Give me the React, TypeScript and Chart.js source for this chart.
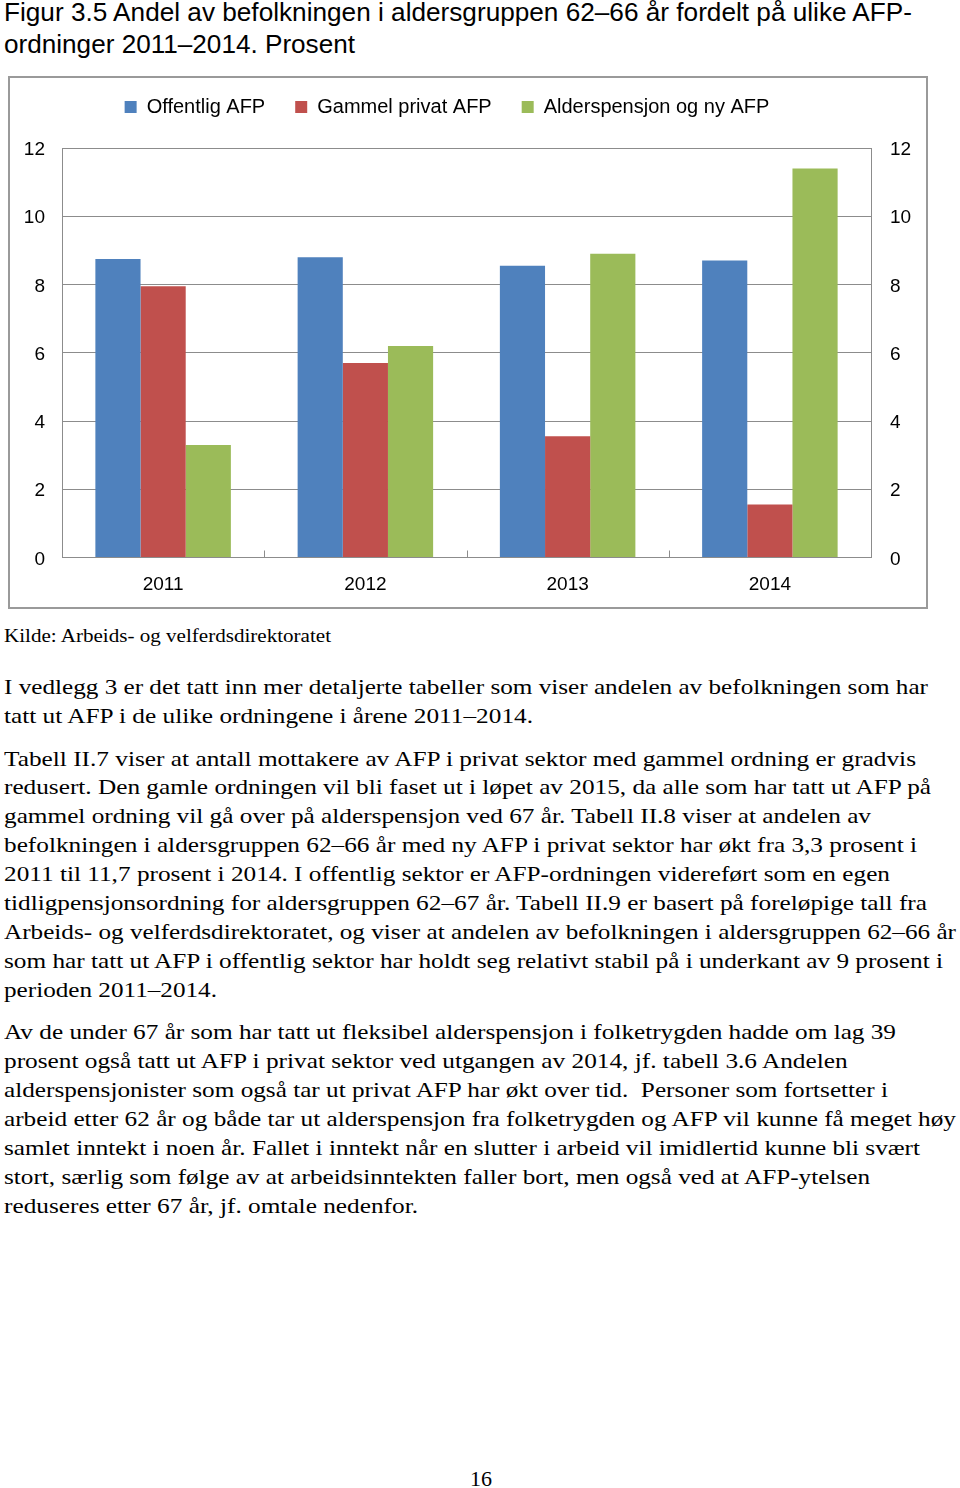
import React, { useEffect, useLayoutEffect, useRef } from "react";
import { Chart, registerables } from "chart.js";

Chart.register(...registerables);

// ---- chart data ----
const categories = ["2011", "2012", "2013", "2014"];
const seriesNames = ["Offentlig AFP", "Gammel privat AFP", "Alderspensjon og ny AFP"];
const offentligAFP = [8.75, 8.8, 8.55, 8.7];
const gammelPrivatAFP = [7.95, 5.7, 3.55, 1.55];
const alderspensjonNyAFP = [3.3, 6.2, 8.9, 11.4];
const seriesColors = ["#4F81BD", "#C0504D", "#9BBB59"];
const yMin = 0;
const yMax = 12;
const yStep = 2;

// ---- page text ----
const titleLines = [
  "Figur 3.5 Andel av befolkningen i aldersgruppen 62–66 år fordelt på ulike AFP-",
  "ordninger 2011–2014. Prosent",
];
const titleBaselines = [20.5, 52.8];
const titleWidths = [908, 351];

const sourceText = "Kilde: Arbeids- og velferdsdirektoratet";

const bodyLines = [
  "I vedlegg 3 er det tatt inn mer detaljerte tabeller som viser andelen av befolkningen som har",
  "tatt ut AFP i de ulike ordningene i årene 2011–2014.",
  "Tabell II.7 viser at antall mottakere av AFP i privat sektor med gammel ordning er gradvis",
  "redusert. Den gamle ordningen vil bli faset ut i løpet av 2015, da alle som har tatt ut AFP på",
  "gammel ordning vil gå over på alderspensjon ved 67 år. Tabell II.8 viser at andelen av",
  "befolkningen i aldersgruppen 62–66 år med ny AFP i privat sektor har økt fra 3,3 prosent i",
  "2011 til 11,7 prosent i 2014. I offentlig sektor er AFP-ordningen videreført som en egen",
  "tidligpensjonsordning for aldersgruppen 62–67 år. Tabell II.9 er basert på foreløpige tall fra",
  "Arbeids- og velferdsdirektoratet, og viser at andelen av befolkningen i aldersgruppen 62–66 år",
  "som har tatt ut AFP i offentlig sektor har holdt seg relativt stabil på i underkant av 9 prosent i",
  "perioden 2011–2014.",
  "Av de under 67 år som har tatt ut fleksibel alderspensjon i folketrygden hadde om lag 39",
  "prosent også tatt ut AFP i privat sektor ved utgangen av 2014, jf. tabell 3.6 Andelen",
  "alderspensjonister som også tar ut privat AFP har økt over tid.  Personer som fortsetter i",
  "arbeid etter 62 år og både tar ut alderspensjon fra folketrygden og AFP vil kunne få meget høy",
  "samlet inntekt i noen år. Fallet i inntekt når en slutter i arbeid vil imidlertid kunne bli svært",
  "stort, særlig som følge av at arbeidsinntekten faller bort, men også ved at AFP-ytelsen",
  "reduseres etter 67 år, jf. omtale nedenfor.",
];
const bodyBaselines = [694, 722.5, 765.5, 794, 823, 852, 881, 910, 939, 968, 997, 1039, 1068, 1097, 1126, 1155, 1183.5, 1212.5];
const bodyRightEdges = [928, 533, 916, 931, 871, 917, 890, 927, 956, 943, 217, 896, 848, 888, 956, 920, 870, 418];

const SANS = "'Liberation Sans', Arial, Helvetica, sans-serif";
const SERIF = "'Liberation Serif', 'Times New Roman', serif";
const GRID = "#8c8c8c";

type LineProps = {
  text: string;
  left: number;
  baseline: number;
  width?: number;
  family: string;
  size: number;
  ascent: number;
};

function TextLine({ text, left, baseline, width, family, size, ascent }: LineProps) {
  const ref = useRef<HTMLSpanElement>(null);
  useLayoutEffect(() => {
    const el = ref.current;
    if (!el || !width) return;
    el.style.transform = "none";
    const nat = el.getBoundingClientRect().width;
    if (nat > 0) {
      const s = Math.max(0.85, Math.min(1.15, width / nat));
      el.style.transform = `scaleX(${s})`;
    }
  }, [text, width]);
  return (
    <span
      ref={ref}
      style={{
        position: "absolute",
        left,
        top: baseline - ascent * size,
        fontFamily: family,
        fontSize: size,
        lineHeight: "normal",
        whiteSpace: "pre",
        transformOrigin: "0 0",
        color: "#000",
      }}
    >
      {text}
    </span>
  );
}

function BarChart() {
  const canvasRef = useRef<HTMLCanvasElement>(null);
  useEffect(() => {
    const canvas = canvasRef.current;
    if (!canvas) return;

    const legendPlacement = {
      id: "legendPlacement",
      beforeLayout(chart: any) {
        const lg = chart.legend;
        if (lg && !lg.__patched) {
          const orig = lg.fit.bind(lg);
          lg.fit = function () {
            orig();
            this.height = 81;
          };
          lg.__patched = true;
        }
      },
      afterLayout(chart: any) {
        const lg = chart.legend;
        if (lg) {
          lg.left -= 33;
          lg.right -= 33;
        }
      },
    };

    const innerTicks = {
      id: "innerTicks",
      afterDatasetsDraw(chart: any) {
        const { ctx, chartArea } = chart;
        const x = chart.scales.x;
        ctx.save();
        ctx.strokeStyle = GRID;
        ctx.lineWidth = 1;
        for (let i = 1; i < categories.length; i++) {
          const px = Math.round((x.getPixelForTick(i - 1) + x.getPixelForTick(i)) / 2) + 0.5;
          ctx.beginPath();
          ctx.moveTo(px, chartArea.bottom);
          ctx.lineTo(px, chartArea.bottom - 7);
          ctx.stroke();
        }
        ctx.restore();
      },
    };

    const tickFont = { family: SANS, size: 19 };
    const chart = new Chart(canvas, {
      type: "bar",
      data: {
        labels: categories,
        datasets: [
          { label: seriesNames[0], data: offentligAFP, backgroundColor: seriesColors[0] },
          { label: seriesNames[1], data: gammelPrivatAFP, backgroundColor: seriesColors[1] },
          { label: seriesNames[2], data: alderspensjonNyAFP, backgroundColor: seriesColors[2] },
        ],
      },
      options: {
        responsive: false,
        animation: false,
        datasets: { bar: { categoryPercentage: 0.67, barPercentage: 1.0 } },
        layout: { padding: { left: 0, right: 0, top: 0, bottom: 0 } },
        plugins: {
          legend: {
            position: "top",
            labels: {
              boxWidth: 12,
              boxHeight: 12,
              padding: 30,
              color: "#000",
              font: { family: SANS, size: 20 },
            },
          },
          tooltip: { enabled: false },
        },
        scales: {
          x: {
            grid: { display: true, drawOnChartArea: false, drawTicks: false },
            border: { display: true, color: GRID, width: 1 },
            ticks: { padding: 16, color: "#000", font: tickFont },
            afterFit: (s: any) => {
              s.height = 50.5;
            },
          },
          y: {
            position: "left",
            min: yMin,
            max: yMax,
            ticks: { stepSize: yStep, padding: 17, labelOffset: 2, color: "#000", font: tickFont },
            grid: { color: GRID, drawTicks: false, lineWidth: 1 },
            border: { display: true, color: GRID, width: 1 },
            afterFit: (s: any) => {
              s.width = 62;
            },
          },
          y2: {
            position: "right",
            min: yMin,
            max: yMax,
            ticks: { stepSize: yStep, padding: 19, labelOffset: 2, color: "#000", font: tickFont },
            grid: { drawOnChartArea: false, drawTicks: false },
            border: { display: true, color: GRID, width: 1 },
            afterFit: (s: any) => {
              s.width = 89;
            },
          },
        },
      } as any,
      plugins: [legendPlacement, innerTicks],
    });
    return () => chart.destroy();
  }, []);

  return (
    <>
      <div
        style={{
          position: "absolute",
          left: 8,
          top: 76,
          width: 920,
          height: 533,
          border: "2px solid #9a9a9a",
          boxSizing: "border-box",
          background: "#fff",
        }}
      />
      <canvas
        ref={canvasRef}
        width={960}
        height={541}
        style={{ position: "absolute", left: 0, top: 67, width: 960, height: 541 }}
      />
    </>
  );
}

export default function App() {
  return (
    <div
      style={{
        position: "absolute",
        left: 0,
        top: 0,
        width: 960,
        height: 1488,
        background: "#fff",
        overflow: "hidden",
      }}
    >
      {titleLines.map((t, i) => (
        <TextLine
          key={"t" + i}
          text={t}
          left={4}
          baseline={titleBaselines[i]}
          width={titleWidths[i]}
          family={SANS}
          size={25}
          ascent={0.905}
        />
      ))}
      <BarChart />
      <TextLine text={sourceText} left={4} baseline={641.5} width={327} family={SERIF} size={19} ascent={0.891} />
      {bodyLines.map((t, i) => (
        <TextLine
          key={"b" + i}
          text={t}
          left={4}
          baseline={bodyBaselines[i]}
          width={bodyRightEdges[i] - 4}
          family={SERIF}
          size={22}
          ascent={0.891}
        />
      ))}
      <TextLine text="16" left={470} baseline={1485.5} family={SERIF} size={22} ascent={0.891} />
    </div>
  );
}
